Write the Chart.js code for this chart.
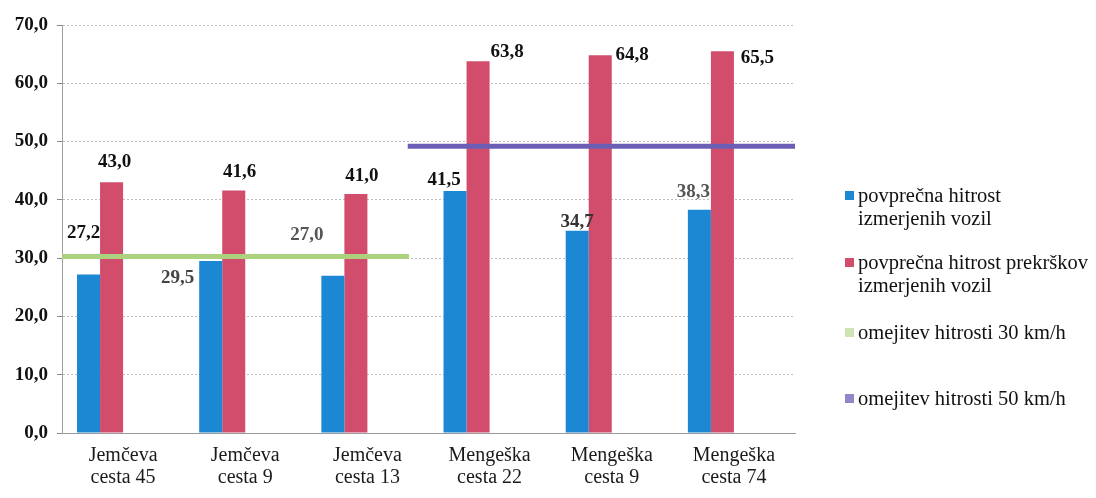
<!DOCTYPE html>
<html>
<head>
<meta charset="utf-8">
<script src="https://cdn.jsdelivr.net/npm/chart.js@4"></script>
<style>
html,body{margin:0;padding:0;background:#fff;}
#wrap{position:relative;width:1096px;height:498px;}
#c{position:absolute;left:0;top:0;}
.leg{position:absolute;left:845px;font-family:"Liberation Serif","Times New Roman",serif;font-size:20.5px;line-height:23px;color:#111;}
.leg .mk{position:absolute;left:0;width:9px;height:9px;}
.leg .tx{position:absolute;left:13px;white-space:nowrap;}
</style>
</head>
<body>
<div id="wrap">
<canvas id="c" width="1096" height="498"></canvas>
<div id="legend"></div>
</div>
<script>
// ---- data ----
const categories = [
  ["Jemčeva","cesta 45"],["Jemčeva","cesta 9"],["Jemčeva","cesta 13"],
  ["Mengeška","cesta 22"],["Mengeška","cesta 9"],["Mengeška","cesta 74"]
];
const avgSpeed      = [27.2, 29.5, 27.0, 41.5, 34.7, 38.3];
const avgViolations = [43.0, 41.6, 41.0, 63.8, 64.8, 65.5];
const limit30Value = 30.3;
const limit30Range = [-0.03, 2.84];
const limit50Value = 49.2;
const limit50Range = [2.83, 6.0];
const seriesNames = [
  ["povprečna hitrost","izmerjenih vozil"],
  ["povprečna hitrost prekrškov","izmerjenih vozil"],
  ["omejitev hitrosti 30 km/h"],
  ["omejitev hitrosti 50 km/h"]
];
const yTicks = [0,10,20,30,40,50,60,70];

const colBlue = "#1c87d3", colRed = "#d24d6b", colGreen = "#add27e", colPurple = "#6a5fb4";

const fmt = v => v.toFixed(1).replace('.', ',');

const labelPlugin = {
  id: 'valLabels',
  afterDatasetsDraw(chart, args, opts) {
    const ctx = chart.ctx;
    ctx.save();
    ctx.font = 'bold 19px "Liberation Serif", serif';
    ctx.textAlign = 'center';
    ctx.textBaseline = 'middle';
    opts.sets.forEach(s => {
      const meta = chart.getDatasetMeta(s.ds);
      const data = chart.data.datasets[s.ds].data;
      meta.data.forEach((el, i) => {
        ctx.fillStyle = s.colors[i];
        ctx.fillText(fmt(data[i]), el.x + s.offsets[i][0], el.y + s.offsets[i][1]);
      });
    });
    ctx.restore();
  }
};

const barOpts = { categoryPercentage: 0.754, barPercentage: 1.0 };

new Chart(document.getElementById('c'), {
  type: 'bar',
  data: {
    labels: categories,
    datasets: [
      Object.assign({type:'bar', label: seriesNames[0].join(' '), data: avgSpeed, backgroundColor: colBlue, xAxisID:'x', yAxisID:'y', order:2}, barOpts),
      Object.assign({type:'bar', label: seriesNames[1].join(' '), data: avgViolations, backgroundColor: colRed, xAxisID:'x', yAxisID:'y', order:2}, barOpts),
      {type:'line', label: seriesNames[2][0], data: limit30Range.map(x => ({x, y: limit30Value})), borderColor: colGreen, borderWidth: 5, pointRadius: 0, xAxisID:'xl', yAxisID:'y', order:1},
      {type:'line', label: seriesNames[3][0], data: limit50Range.map(x => ({x, y: limit50Value})), borderColor: colPurple, borderWidth: 5, pointRadius: 0, xAxisID:'xl', yAxisID:'y', order:1}
    ]
  },
  options: {
    responsive: false,
    animation: false,
    layout: { padding: { left: 0, top: 25, right: 301, bottom: 0 } },
    plugins: {
      legend: { display: false },
      tooltip: { enabled: false },
      valLabels: {
        sets: [
          { ds: 0,
            offsets: [[-5,-41],[-33,17],[-26,-41],[-11,-11],[0,-9],[-6,-18]],
            colors: ['#111','#444','#555','#111','#333','#555'] },
          { ds: 1,
            offsets: [[3,-20],[6,-18],[6,-18],[29,-9],[32,0],[35,7]],
            colors: ['#111','#111','#111','#111','#111','#111'] }
        ]
      }
    },
    scales: {
      x: {
        type: 'category',
        grid: { display: false, drawTicks: false },
        border: { display: true, color: '#9a9a9a', width: 1 },
        ticks: {
          color: '#1a1a1a', padding: 12, maxRotation: 0, autoSkip: false,
          font: { family: '"Liberation Serif", serif', size: 20, lineHeight: 1.1 }
        },
        afterFit(s) { s.height = 65; }
      },
      xl: {
        type: 'linear', display: false, min: 0, max: 6, offset: false
      },
      y: {
        min: 0, max: 70,
        afterBuildTicks(s) { s.ticks = yTicks.map(v => ({value: v})); },
        grid: { color: '#bdbdbd', lineWidth: 1, tickLength: 5, tickColor: '#888' },
        border: { display: true, color: '#a0a0a0', dash: [2,2] },
        ticks: {
          color: '#111', padding: 9,
          font: { family: '"Liberation Serif", serif', size: 19, weight: 'bold' },
          callback: v => fmt(v)
        },
        afterFit(s) { s.width = 62; }
      }
    }
  },
  plugins: [labelPlugin]
});

// HTML legend
const legendMarks = [colBlue, colRed, colGreen, colPurple];
const legendTops = [184, 251, 321, 387];
const leg = document.getElementById('legend');
seriesNames.forEach((lines, i) => {
  const d = document.createElement('div');
  d.className = 'leg';
  d.style.top = legendTops[i] + 'px';
  const m = document.createElement('div');
  m.className = 'mk';
  m.style.top = '7px';
  m.style.background = legendMarks[i];
  if (i === 2) m.style.opacity = '0.6';
  if (i === 3) m.style.opacity = '0.75';
  d.appendChild(m);
  const t = document.createElement('div');
  t.className = 'tx';
  t.innerHTML = lines.join('<br>');
  d.appendChild(t);
  leg.appendChild(d);
});
</script>
</body>
</html>
